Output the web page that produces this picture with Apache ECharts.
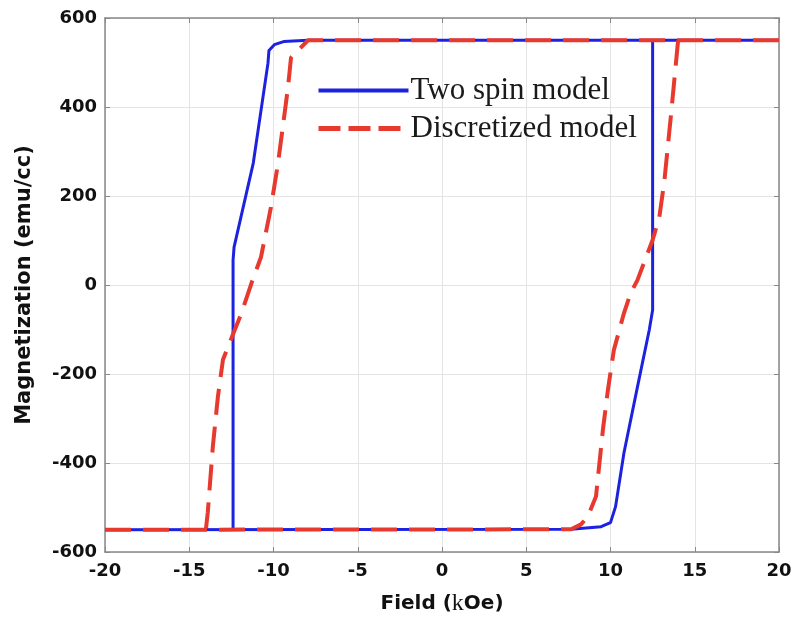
<!DOCTYPE html>
<html>
<head>
<meta charset="utf-8">
<script src="https://cdn.jsdelivr.net/npm/echarts@6/dist/echarts.min.js"></script>
<style>html,body{margin:0;padding:0;background:#fff}#c{width:795px;height:618px}</style>
</head>
<body>
<div id="c"></div>
<script>
// Two spin model: descending branch (field decreasing) and ascending branch
var twoSpinDownField = [20, -7.95, -9.4, -9.95, -10.27, -10.33, -11.2, -12.34, -12.4, -12.4];
var twoSpinDownMag   = [550, 550, 547, 540, 527, 498, 274, 85, 56, -550];
var twoSpinUpField   = [-20, 7.66, 9.44, 10.0, 10.3, 10.8, 11.6, 12.3, 12.5, 12.5];
var twoSpinUpMag     = [-550, -549, -543, -534, -498, -377, -229, -101, -56, 550];
// Discretized model
var discDownField = [20, -7.95, -8.96, -9.14, -9.73, -10.15, -10.74, -11.3, -11.9, -12.7, -13.0, -13.3, -13.6, -13.9, -14.0, -14.0];
var discDownMag   = [550, 550, 511, 444, 274, 175, 63, 5, -63, -139, -168, -251, -363, -511, -545, -550];
var discUpField   = [-20, 7.66, 8.25, 8.66, 9.14, 9.55, 9.85, 10.2, 10.8, 11.2, 11.6, 12.5, 12.9, 13.2, 13.6, 13.9, 14.0, 14.0];
var discUpMag     = [-550, -549, -538, -520, -475, -325, -235, -146, -63, -18, 11, 101, 153, 235, 386, 505, 545, 550];
var xTicks = [-20, -15, -10, -5, 0, 5, 10, 15, 20];
var yTicks = [-600, -400, -200, 0, 200, 400, 600];
var seriesNames = ['Two spin model', 'Discretized model'];

function zip(a, b) { return a.map(function (v, i) { return [v, b[i]]; }); }

var blue = '#1c22e0', red = '#e8392e';
var blueStyle = { color: blue, width: 3 };
var redStyle = { color: red, width: 4, type: [26, 12] };

var chart = echarts.init(document.getElementById('c'), null, { renderer: 'canvas' });
var tickFont = { fontFamily: 'DejaVu Sans', fontWeight: 'bold', fontSize: 18, color: '#111' };
chart.setOption({
  animation: false,
  backgroundColor: '#fff',
  grid: { left: 105, right: 16, top: 18, bottom: 66, outerBoundsMode: 'none', containLabel: false },
  legend: {
    data: [
      { name: seriesNames[0], lineStyle: { width: 4 } },
      { name: seriesNames[1], lineStyle: { width: 5, type: [22, 8] } }
    ],
    orient: 'vertical',
    left: 311, top: 70,
    itemWidth: 90, itemHeight: 16, itemGap: 7,
    itemStyle: { opacity: 0 },
    textStyle: { fontFamily: 'Liberation Serif', fontSize: 31, color: '#1a1a1a', padding: [0, 0, 0, -3] }
  },
  xAxis: [{
    type: 'value', min: -20, max: 20, interval: 5,
    name: '', nameLocation: 'middle', nameGap: 40,
    nameTextStyle: {
      rich: {
        a: { fontFamily: 'DejaVu Sans', fontWeight: 'bold', fontSize: 20, color: '#111' },
        k: { fontFamily: 'Liberation Serif', fontSize: 24, color: '#111' }
      }
    },
    axisLine: { show: true, onZero: false, lineStyle: { color: '#888', width: 1.5 } },
    axisTick: { inside: true, length: 5, lineStyle: { color: '#888' } },
    axisLabel: Object.assign({ margin: 10, formatter: function (v) { return xTicks.indexOf(v) >= 0 ? String(v) : ''; } }, tickFont),
    splitLine: { show: true, lineStyle: { color: '#e4e4e4', width: 1 } }
  }, {
    type: 'value', min: -20, max: 20, interval: 5, position: 'top',
    axisLine: { show: true, onZero: false, lineStyle: { color: '#888', width: 1.5 } },
    axisTick: { inside: true, length: 5, lineStyle: { color: '#888' } },
    axisLabel: { show: false }, splitLine: { show: false }
  }],
  yAxis: [{
    type: 'value', min: -600, max: 600, interval: 200,
    name: 'Magnetization (emu/cc)', nameLocation: 'middle', nameGap: 70,
    nameTextStyle: { fontFamily: 'DejaVu Sans', fontWeight: 'bold', fontSize: 21, color: '#111' },
    axisLine: { show: true, onZero: false, lineStyle: { color: '#888', width: 1.5 } },
    axisTick: { inside: true, length: 5, lineStyle: { color: '#888' } },
    axisLabel: Object.assign({ margin: 8, formatter: function (v) { return yTicks.indexOf(v) >= 0 ? String(v) : ''; } }, tickFont),
    splitLine: { show: true, lineStyle: { color: '#e4e4e4', width: 1 } }
  }, {
    type: 'value', min: -600, max: 600, interval: 200, position: 'right',
    axisLine: { show: true, onZero: false, lineStyle: { color: '#888', width: 1.5 } },
    axisTick: { inside: true, length: 5, lineStyle: { color: '#888' } },
    axisLabel: { show: false }, splitLine: { show: false }
  }],
  series: [
    { name: seriesNames[0], type: 'line', data: zip(twoSpinDownField, twoSpinDownMag), symbol: 'none', lineStyle: blueStyle, itemStyle: { color: blue }, z: 2 },
    { name: seriesNames[0], type: 'line', data: zip(twoSpinUpField, twoSpinUpMag), symbol: 'none', lineStyle: blueStyle, itemStyle: { color: blue }, z: 2 },
    { name: seriesNames[1], type: 'line', data: zip(discDownField, discDownMag), symbol: 'none', lineStyle: redStyle, itemStyle: { color: red }, z: 3 },
    { name: seriesNames[1], type: 'line', data: zip(discUpField, discUpMag), symbol: 'none', lineStyle: redStyle, itemStyle: { color: red }, z: 3 }
  ]
});
chart.setOption({ xAxis: [{ name: '{a|Field (}{k|k}{a|Oe)}' }, {}] });
</script>
</body>
</html>
